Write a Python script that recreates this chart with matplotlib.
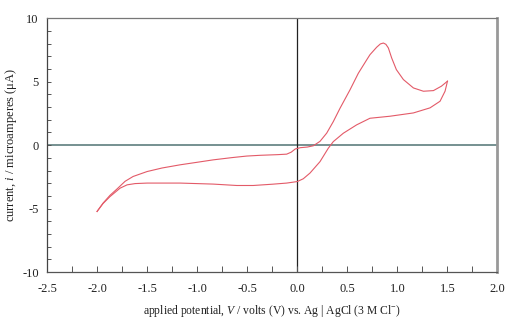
import matplotlib
matplotlib.use("Agg")
import matplotlib.pyplot as plt
from matplotlib.ticker import MultipleLocator, FormatStrFormatter

# Forward sweep (-2.0 V -> +1.5 V)
x_fwd = [-2.00, -1.94, -1.87, -1.80, -1.72, -1.64, -1.50, -1.35, -1.17, -1.00,
         -0.84, -0.65, -0.505, -0.37, -0.20, -0.106, -0.06, -0.02, 0.03, 0.10,
         0.16, 0.227, 0.294, 0.36, 0.427, 0.526, 0.61, 0.693, 0.726, 0.793,
         0.83, 0.86, 0.885, 0.91, 0.943, 0.99, 1.06, 1.16, 1.26, 1.36,
         1.44, 1.50]
i_fwd = [-5.23, -4.57, -3.95, -3.45, -2.85, -2.47, -2.08, -1.80, -1.55, -1.35,
         -1.16, -0.98, -0.86, -0.80, -0.75, -0.71, -0.55, -0.30, -0.20, -0.15,
         -0.05, 0.30, 0.95, 1.86, 2.91, 4.35, 5.67, 6.72, 7.13, 7.72,
         7.98, 8.05, 7.95, 7.66, 6.87, 5.95, 5.17, 4.51, 4.25, 4.30,
         4.65, 5.04]

# Reverse sweep (+1.5 V -> -2.0 V)
x_rev = [1.50, 1.49, 1.476, 1.426, 1.326, 1.16, 0.926, 0.726, 0.593,
         0.46, 0.36, 0.31, 0.227, 0.127, 0.06, 0.0, -0.106, -0.25, -0.44,
         -0.605, -0.84, -1.17, -1.50, -1.62, -1.70, -1.77, -1.87, -1.94, -2.00]
i_rev = [5.04, 4.70, 4.25, 3.46, 2.94, 2.54, 2.28, 2.12, 1.60,
         0.94, 0.28, -0.24, -1.30, -2.20, -2.65, -2.87, -2.99, -3.08, -3.18,
         -3.18, -3.07, -2.99, -2.99, -3.03, -3.13, -3.39, -4.05, -4.60, -5.23]

plt.rcParams['font.family'] = ['Liberation Serif', 'DejaVu Serif']
plt.rcParams['mathtext.fontset'] = 'custom'
plt.rcParams['mathtext.rm'] = 'Liberation Serif'
plt.rcParams['mathtext.it'] = 'Liberation Serif:italic'

fig = plt.figure(figsize=(5.24, 3.22), dpi=100)
ax = fig.add_axes([47/524, 1-272/322, 450.5/524, 253.7/322])

ax.axhline(0, color='#5e7e7e', lw=1.2, zorder=1)
ax.axvline(0, color='#222222', lw=0.9, zorder=1)

curve_color = '#e35a68'
ax.plot(x_fwd, i_fwd, color=curve_color, lw=0.8, zorder=3)
ax.plot(x_rev, i_rev, color=curve_color, lw=0.8, zorder=3)

ax.set_xlim(-2.5, 2.0)
ax.set_ylim(-10, 10)
ax.xaxis.set_major_locator(MultipleLocator(0.5))
ax.xaxis.set_minor_locator(MultipleLocator(0.25))
ax.yaxis.set_major_locator(MultipleLocator(5))
ax.yaxis.set_minor_locator(MultipleLocator(1))
ax.xaxis.set_major_formatter(FormatStrFormatter('%.1f'))
ax.yaxis.set_major_formatter(FormatStrFormatter('%d'))

ax.tick_params(axis='both', which='both', direction='in', color='#555555',
               width=0.7, labelsize=9, labelcolor='#222222')
ax.tick_params(axis='x', which='both', length=4, pad=8)
ax.tick_params(axis='y', which='both', length=3, pad=6)

ax.spines['left'].set_color('#444444')
ax.spines['left'].set_linewidth(0.9)
ax.spines['bottom'].set_color('#555555')
ax.spines['bottom'].set_linewidth(0.9)
ax.spines['top'].set_color('#777777')
ax.spines['top'].set_linewidth(0.9)
ax.spines['right'].set_color('#999999')
ax.spines['right'].set_linewidth(2.0)

ax.set_xlabel(r'applied potential, $\mathit{V}$ / volts (V) vs. Ag | AgCl (3 M Cl$^{-}$)',
              fontsize=8.4, color='#222222')
ax.set_ylabel(r'current, $\mathit{i}$ / microamperes ($\mathrm{\mu}$A)',
              fontsize=9, color='#222222')
ax.xaxis.set_label_coords(0.5, -0.124)
ax.yaxis.set_label_coords(-0.062, 0.5)

fig.savefig('out.png', dpi=100)
